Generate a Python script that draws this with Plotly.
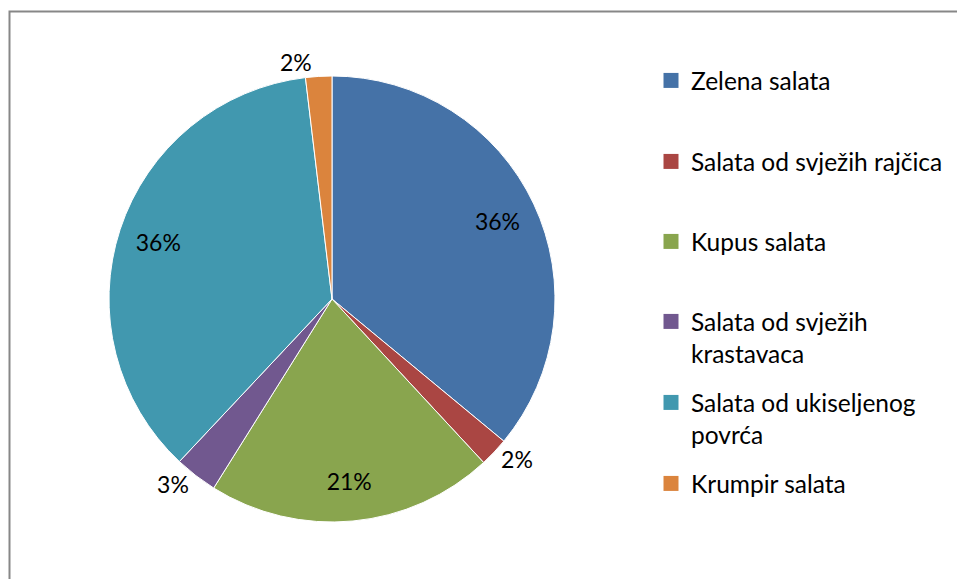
import plotly.graph_objects as go

categories = ["Zelena salata", "Salata od svježih rajčica", "Kupus salata",
              "Salata od svježih krastavaca", "Salata od ukiseljenog povrća", "Krumpir salata"]
legend_labels = ["Zelena salata", "Salata od svježih rajčica", "Kupus salata",
                 "Salata od svježih<br>krastavaca", "Salata od ukiseljenog<br>povrća", "Krumpir salata"]
values = [36.0, 2.1, 20.8, 3.1, 36.1, 1.9]
colors = ["#4572A7", "#AA4643", "#89A54E", "#71588F", "#4198AF", "#DB843D"]
text_pos = ["inside", "outside", "inside", "outside", "inside", "outside"]

W, H = 957, 579
FONT = "Lato"
FS = 23
LFS = 24.5

fig = go.Figure()
cx, cy, R = 332, 299, 223
dom = dict(x=[(cx - R) / W, (cx + R) / W], y=[1 - (cy + R) / H, 1 - (cy - R) / H])

# slices
fig.add_trace(go.Pie(
    labels=categories, values=values, sort=False, direction="clockwise", rotation=0,
    marker=dict(colors=colors, line=dict(color="white", width=1)),
    textinfo="none", showlegend=False, hoverinfo="label+percent", domain=dom,
))
# percentage labels (transparent ring so inside labels sit near the rim)
fig.add_trace(go.Pie(
    labels=categories, values=values, sort=False, direction="clockwise", rotation=0,
    hole=0.64,
    marker=dict(colors=["rgba(0,0,0,0)"] * len(values), line=dict(width=0)),
    texttemplate="%{percent:.0%}", textposition=text_pos,
    insidetextorientation="horizontal",
    textfont=dict(family=FONT, size=FS, color="black"),
    showlegend=False, hoverinfo="skip", domain=dom,
))

legend_tops = [82, 163, 243, 323, 404, 485]
layout_legends = {}
for i, (lab, col) in enumerate(zip(legend_labels, colors)):
    lid = "legend" if i == 0 else f"legend{i+1}"
    fig.add_trace(go.Scatter(
        x=[None], y=[None], mode="markers", name=lab, legend=lid,
        marker=dict(symbol="square", size=15, color=col), showlegend=True,
    ))
    layout_legends[lid] = dict(
        x=651 / W, xanchor="left", y=1 - (legend_tops[i] - 24) / H, yanchor="top",
        font=dict(family=FONT, size=LFS, color="black"), valign="top",
        bgcolor="rgba(0,0,0,0)", itemwidth=30,
    )

fig.update_layout(
    width=W, height=H, margin=dict(l=0, r=0, t=0, b=0),
    paper_bgcolor="white", plot_bgcolor="white",
    xaxis=dict(visible=False), yaxis=dict(visible=False),
    shapes=[dict(type="rect", xref="paper", yref="paper",
                 x0=9.5 / W, x1=1.1, y0=-0.1, y1=1 - 11.5 / H,
                 line=dict(color="#878787", width=2), layer="below")],
    **layout_legends,
)

fig.write_html("out.html", config={"displayModeBar": False},
               post_script="document.body.style.margin='0';document.body.style.overflow='hidden';")
